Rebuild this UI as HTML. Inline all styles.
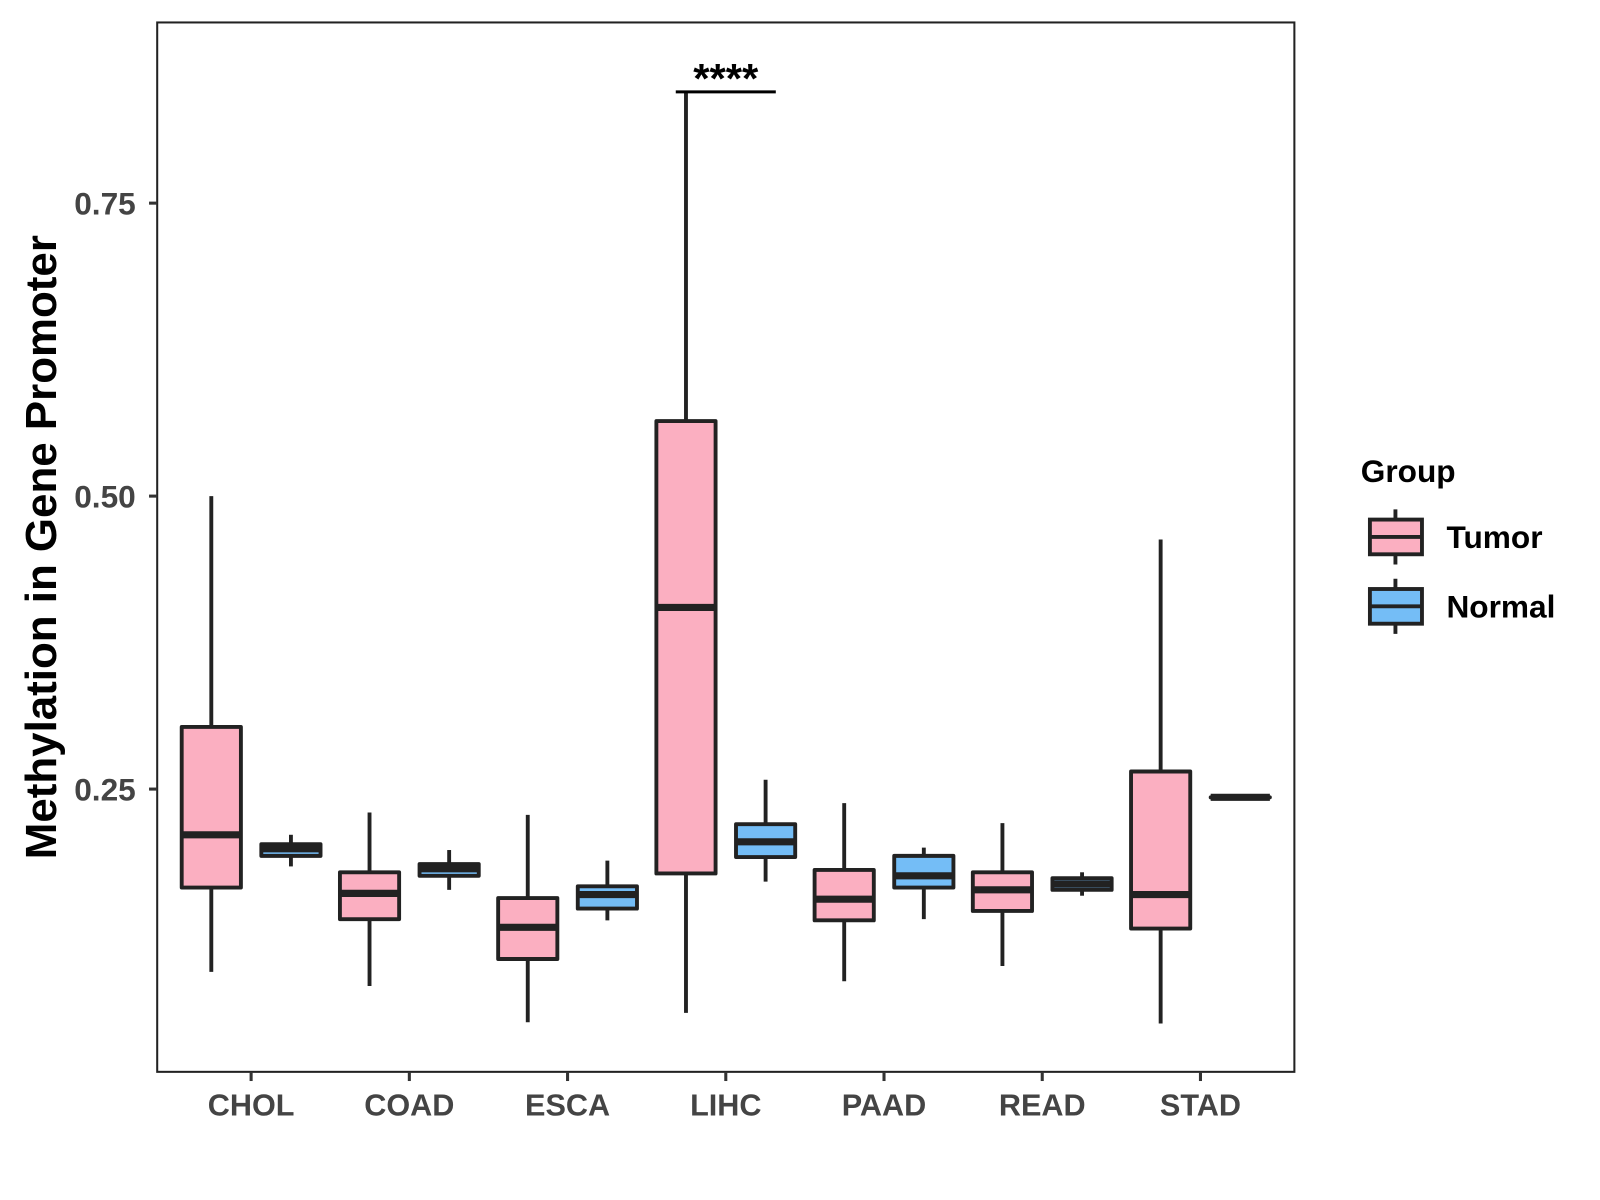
<!DOCTYPE html>
<html><head><meta charset="utf-8"><style>
html,body{margin:0;padding:0;background:#fff;}
svg{display:block;font-family:"Liberation Sans",Arial,sans-serif;}
</style></head><body>
<svg width="1600" height="1200">
<rect x="0" y="0" width="1600" height="1200" fill="#fff"/>
<g id="chart" transform="scale(1.0208)"></g>
</svg>
<script>
const categories=["CHOL","COAD","ESCA","LIHC","PAAD","READ","STAD"];
// [low, q1, median, q3, high]
const tumorStats=[[0.094,0.166,0.211,0.303,0.50],[0.082,0.139,0.161,0.179,0.230],[0.051,0.105,0.132,0.157,0.228],[0.059,0.178,0.405,0.564,0.845],[0.086,0.138,0.156,0.181,0.238],[0.099,0.146,0.164,0.179,0.221],[0.050,0.131,0.160,0.265,0.463]];
const normalStats=[[0.184,0.193,0.199,0.203,0.211],[0.164,0.176,0.182,0.186,0.198],[0.138,0.148,0.160,0.167,0.189],[0.171,0.192,0.205,0.220,0.258],[0.139,0.166,0.176,0.193,0.200],[0.159,0.164,0.169,0.174,0.179],[0.243,0.243,0.243,0.243,0.243]];
const yTicks=[0.25,0.50,0.75];
const yTickLabels=["0.25","0.50","0.75"];
const groups=["Tumor","Normal"];
const colors=["#FBAFC1","#74BDF6"];

const svg=document.getElementById('chart');
const NS="http://www.w3.org/2000/svg";
const L=154,R=1268,T=22,B=1050;
function y(v){return 773-(v-0.25)*1148;}
function x(i){return 246+i*155;}
function mk(tag,attrs,parent){const e=document.createElementNS(NS,tag);for(const k in attrs)e.setAttribute(k,attrs[k]);(parent||svg).appendChild(e);return e;}

const frame=mk('rect',{x:L,y:T,width:R-L,height:B-T,fill:'none',stroke:'#222','stroke-width':2});



yTicks.forEach((t,i)=>{
  const g=mk('g',{});
  
  
  mk('line',{x1:L-8,x2:L,y1:y(t),y2:y(t),stroke:'#333','stroke-width':3},g);
  const tx=mk('text',{x:L-21,y:y(t)+11,'text-anchor':'end','font-size':31,'font-weight':'bold',fill:'#444'},g);
  tx.textContent=yTickLabels[i];
});
categories.forEach((c,i)=>{
  const g=mk('g',{});
  
  
  mk('line',{x1:x(i),x2:x(i),y1:B,y2:B+9,stroke:'#333','stroke-width':3},g);
  const tx=mk('text',{x:x(i),y:B+43,'text-anchor':'middle','font-size':30,'font-weight':'bold',fill:'#444'},g);
  tx.textContent=c;
});

function drawBox(s,cx,col,name){
  const g=mk('g',{});
  
  
  const w=58;
  mk('line',{x1:cx,x2:cx,y1:y(s[4]),y2:y(s[0]),stroke:'#222','stroke-width':3.8},g);
  mk('rect',{x:cx-w/2,y:y(s[3]),width:w,height:Math.max(y(s[1])-y(s[3]),0.1),fill:col,stroke:'#222','stroke-width':3.8,'stroke-linejoin':'round'},g);
  mk('line',{x1:cx-w/2,x2:cx+w/2,y1:y(s[2]),y2:y(s[2]),stroke:'#222','stroke-width':7},g);
}
categories.forEach((c,i)=>{
  drawBox(tumorStats[i],x(i)-39,colors[0],'box-tumor-'+c.toLowerCase());
  drawBox(normalStats[i],x(i)+39,colors[1],'box-normal-'+c.toLowerCase());
});

const sig=mk('g',{});


mk('line',{x1:x(3)-49,x2:x(3)+49,y1:90,y2:90,stroke:'#000','stroke-width':3},sig);
const st=mk('text',{x:x(3),y:91,'text-anchor':'middle','font-size':41,'font-weight':'bold',fill:'#000'},sig);
st.textContent='****';

const yt=mk('text',{x:0,y:0,transform:'translate(55,536) rotate(-90)','text-anchor':'middle','font-size':43,'font-weight':'bold',fill:'#000'});


yt.textContent='Methylation in Gene Promoter';

const lg=mk('g',{});


const lt=mk('text',{x:1333,y:472,'font-size':31,'font-weight':'bold',fill:'#000'},lg);
lt.textContent='Group';
groups.forEach((gname,i)=>{
  const e=mk('g',{},lg);
  
  
  const cy=526+i*68;
  mk('line',{x1:1367,x2:1367,y1:cy-27,y2:cy+27,stroke:'#222','stroke-width':3.8},e);
  mk('rect',{x:1342,y:cy-17,width:51,height:34,fill:colors[i],stroke:'#222','stroke-width':3.8},e);
  mk('line',{x1:1342,x2:1393,y1:cy,y2:cy,stroke:'#222','stroke-width':3.8},e);
  const t=mk('text',{x:1417,y:cy+11,'font-size':31,'font-weight':'bold',fill:'#000'},e);
  t.textContent=gname;
});
</script>
</body></html>
